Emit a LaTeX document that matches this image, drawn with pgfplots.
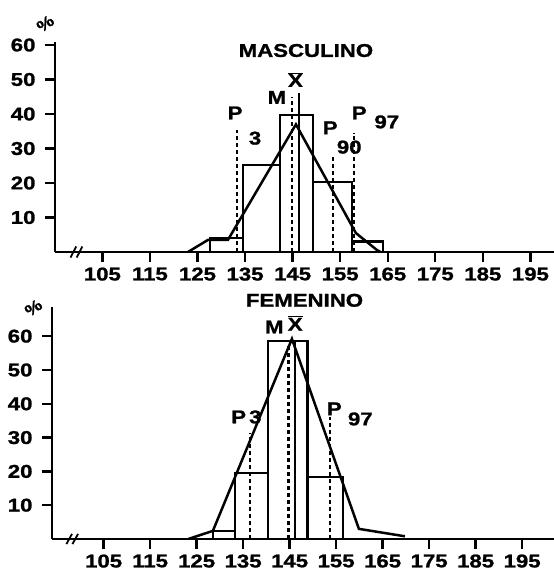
\documentclass[border=0pt]{standalone}
\usepackage{fontspec}
\setmainfont{Liberation Sans}[FakeStretch=1.2, BoldFeatures={FakeStretch=1.2, FakeBold=1.2}]
\usepackage{pgfplots}
\pgfplotsset{compat=1.18}
\newcommand\lf{\fontsize{18.5}{18.5}\selectfont\bfseries}
\pgfplotsset{hist/.style={
  scale only axis, anchor=south west,
  axis x line*=bottom, axis y line*=left,
  axis line style={-, line width=2.6pt},
  clip=false,
  xtick={105,115,...,195}, ytick={10,20,...,60},
  tick align=outside, major tick length=10pt,
  every tick/.style={line width=2.4pt, black},
  tick label style={font=\lf},
  xticklabel style={yshift=-2pt},
  yticklabel style={xshift=-6pt},
  /pgf/number format/assume math mode=true,
},
bar/.style={ybar interval, fill=white, draw=black, line width=2.5pt},
poly/.style={black, line width=2.5pt, mark=none},
dsh/.style={black, line width=2.6pt, dash pattern=on 4pt off 3pt, mark=none},
}
\tikzset{pct/.style={font=\fontsize{16}{16}\selectfont\bfseries, rotate=35}}
\begin{document}
\begin{tikzpicture}
\useasboundingbox (0,0) rectangle (554pt,574pt);
% ---------------- MASCULINO
\begin{axis}[hist, at={(55pt,322pt)}, width=499pt, height=210.45pt,
  xmin=95.04, xmax=199.96, ymin=0, ymax=61]
\addplot[bar] coordinates {(127.6,4.1) (134.6,25.2) (142.3,39.7) (149.3,20.3) (157.5,3) (164.0,0)};
\addplot[dsh] coordinates {(133.3,0) (133.3,35.4)};
\addplot[dsh] coordinates {(144.9,0) (144.9,45)};
\addplot[dsh] coordinates {(153.5,0) (153.5,28)};
\addplot[dsh] coordinates {(157.9,0) (157.9,34.5)};
\addplot[poly] coordinates {(123.0,0) (127.2,3.5) (131.4,3.5) (145.7,37) (158.3,5.5) (162.7,0.6) (163.5,0)};
\addplot[poly] coordinates {(146.3,0) (146.3,46)};
\node[font=\lf] at (axis cs:147.8,58.4) {MASCULINO};
\node[font=\lf] at (axis cs:141.7,44.8) {M};
\node[font=\lf] at (axis cs:145.6,50) {$\overline{\hbox{X}}$};
\node[font=\lf] at (axis cs:132.9,40.3) {P};
\node[font=\lf] at (axis cs:137.1,33) {3};
\node[font=\lf] at (axis cs:152.9,36) {P};
\node[font=\lf] at (axis cs:156.9,30.4) {90};
\node[font=\lf] at (axis cs:159.0,40.3) {P};
\node[font=\lf] at (axis cs:164.8,37.7) {97};
\node[pct] at (axis cs:93,66.2) {\%};
\draw[line width=1.8pt] (axis cs:98.3,-1.6) -- (axis cs:99.5,1.6);
\draw[line width=1.8pt] (axis cs:99.6,-1.6) -- (axis cs:100.8,1.6);
\end{axis}
% ---------------- FEMENINO
\begin{axis}[hist, at={(52pt,35pt)}, width=502.2pt, height=231.9pt,
  xmin=93.9, xmax=201.9, ymin=0, ymax=68.6]
\addplot[bar] coordinates {(128.5,2.4) (133.3,19.5) (140.4,58.6) (148.8,18.3) (156.5,0)};
\addplot[dsh] coordinates {(136.5,0) (136.5,31.4)};
\addplot[dsh] coordinates {(144.7,0) (144.7,57)};
\addplot[dsh] coordinates {(153.7,0) (153.7,36)};
\addplot[poly] coordinates {(123.2,0) (128.5,2.4) (145.5,59.2) (159.9,3.0) (169.8,0.8)};
\addplot[poly] coordinates {(146.2,0) (146.2,59)};
\node[font=\lf] at (axis cs:148.2,70.6) {FEMENINO};
\node[font=\lf] at (axis cs:141.7,62.7) {M};
\node[font=\lf] at (axis cs:146.2,63.8) {$\overline{\hbox{X}}$};
\node[font=\lf] at (axis cs:135.7,36.1) {P\,3};
\node[font=\lf] at (axis cs:154.6,38.5) {P};
\node[font=\lf] at (axis cs:160.2,35.5) {97};
\node[pct] at (axis cs:89.9,68.4) {\%};
\draw[line width=1.8pt] (axis cs:97.0,-1.5) -- (axis cs:98.2,1.5);
\draw[line width=1.8pt] (axis cs:98.3,-1.5) -- (axis cs:99.5,1.5);
\end{axis}
\end{tikzpicture}
\end{document}
